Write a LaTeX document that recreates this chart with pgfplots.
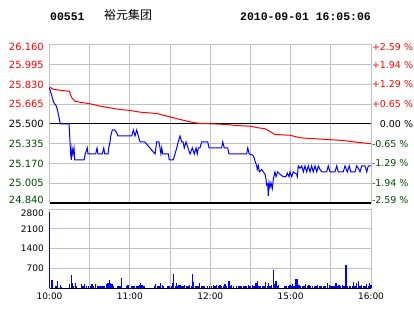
\documentclass[border=0pt]{standalone}
\usepackage{fontspec}
\setmainfont{DejaVu Sans}
\newfontfamily\cjk{Noto Sans CJK SC}
\newfontfamily\monob{Liberation Mono}
\usepackage{pgfplots}
\pgfplotsset{compat=1.18}
\definecolor{gridgray}{RGB}{192,192,192}
\definecolor{dkgreen}{RGB}{0,76,0}
\definecolor{pblue}{RGB}{0,0,255}
\definecolor{pred}{RGB}{255,0,0}
\begin{document}
\begin{tikzpicture}
\useasboundingbox (0bp,0bp) rectangle (414bp,314bp);
\node[anchor=base west, inner sep=0pt, font=\monob\bfseries\fontsize{11.5}{12}\selectfont] at (50bp,293.3bp) {00551};
\node[anchor=base west, inner sep=0pt, font=\cjk\fontsize{12}{12}\selectfont] at (104bp,294bp) {裕元集团};
\node[anchor=base east, inner sep=0pt, font=\monob\bfseries\fontsize{11.5}{12}\selectfont] at (371bp,293.3bp) {2010-09-01 16:05:06};

% ---------- price panel ----------
\begin{axis}[at={(49.5bp,111bp)}, anchor=south west, scale only axis,
  width=321.5bp, height=158bp,
  xmin=0, xmax=240, ymin=24.84, ymax=26.16,
  xtick={0,30,...,240}, xticklabel=\empty,
  ytick={24.84,25.005,25.17,25.335,25.5,25.665,25.83,25.995,26.16},
  yticklabels={,\textcolor{dkgreen}{25.005},\textcolor{dkgreen}{25.170},\textcolor{dkgreen}{25.335},25.500,\textcolor{pred}{25.665},\textcolor{pred}{25.830},\textcolor{pred}{25.995},},
  yticklabel style={font=\fontsize{10}{12}\selectfont, inner sep=0pt, xshift=-5.5bp},
  grid=major, major grid style={gridgray, line width=1bp},
  axis line style={gridgray, line width=1bp},
  major tick length=0pt, tick style={draw=none},
  clip=false]
\draw[black, line width=1bp] (axis cs:0,25.5) -- (axis cs:240,25.5);
\draw[black, line width=1.2bp] (axis cs:0,24.84) -- (axis cs:240,24.84);
\node[anchor=east, inner sep=0pt, font=\fontsize{10}{12}\selectfont, text=dkgreen, xshift=-5.5bp, yshift=3bp] at (axis cs:0,24.84) {24.840};
\node[anchor=east, inner sep=0pt, font=\fontsize{10}{12}\selectfont, text=pred, xshift=-5.5bp, yshift=-2bp] at (axis cs:0,26.16) {26.160};
\node[anchor=west, inner sep=0pt, font=\fontsize{9.5}{11}\selectfont, text=dkgreen, xshift=0.8bp, yshift=3bp] at (axis cs:240,24.84) {-2.59 \%};
\node[anchor=west, inner sep=0pt, font=\fontsize{9.5}{11}\selectfont, text=pred, xshift=0.8bp, yshift=-2bp] at (axis cs:240,26.16) {+2.59 \%};
\addplot[pred, line width=1bp, mark=none] coordinates {
(0,25.81)(2.8,25.79)(9.1,25.78)(14.8,25.774)(16.6,25.72)(19,25.69)(22.8,25.682)(30.2,25.669)(37.7,25.649)(45.2,25.635)(52.6,25.621)(60.1,25.613)(67.6,25.599)(80,25.588)(92.4,25.552)(97.4,25.538)(106.1,25.515)(112.3,25.504)(119.9,25.502)(132.3,25.496)(139.7,25.487)(149.7,25.482)(155.9,25.468)(160.9,25.46)(163.3,25.446)(168.3,25.412)(179.5,25.406)(187,25.385)(194.5,25.379)(206.9,25.371)(219.3,25.362)(229.3,25.348)(240,25.335)
};
\addplot[pblue, line width=1bp, mark=none] coordinates {
(0,25.80)(1.3,25.75)(3.1,25.68)(5.1,25.65)(6.3,25.60)(8.1,25.50)(14.6,25.50)(15.8,25.25)(16.3,25.20)(16.8,25.30)(17.5,25.25)(18.3,25.30)(18.8,25.20)(25.8,25.20)(26.7,25.25)(28.2,25.30)(28.7,25.25)(34.5,25.25)(35.5,25.30)(36.2,25.25)(39.4,25.25)(40.5,25.30)(41.2,25.25)(43.7,25.25)(44.2,25.30)(45.2,25.35)(45.7,25.40)(46.9,25.45)(48.7,25.45)(50.0,25.43)(51.1,25.40)(61.4,25.40)(62.6,25.45)(63.8,25.40)(65.1,25.45)(66.3,25.40)(67.6,25.35)(71.1,25.35)(78.8,25.25)(80.0,25.35)(81.7,25.35)(82.5,25.30)(83.2,25.25)(83.8,25.30)(84.5,25.25)(88.7,25.25)(89.4,25.20)(92.4,25.20)(93.7,25.25)(95.0,25.30)(96.1,25.35)(97.4,25.40)(98.7,25.35)(99.7,25.35)(100.6,25.30)(101.9,25.35)(103.4,25.30)(104.9,25.25)(106.6,25.30)(108.1,25.25)(109.4,25.30)(110.3,25.25)(111.1,25.30)(112.3,25.30)(113.6,25.35)(114.8,25.35)(118.1,25.35)(119.1,25.30)(128.5,25.30)(129.3,25.35)(130.5,25.30)(133.0,25.30)(134.0,25.25)(147.2,25.25)(148.0,25.30)(149.1,25.25)(151.7,25.24)(152.7,25.22)(153.4,25.19)(154.7,25.15)(155.1,25.12)(155.9,25.15)(156.6,25.10)(158.4,25.12)(159.6,25.10)(160.9,25.08)(161.6,25.04)(162.1,24.99)(162.9,25.00)(163.3,24.90)(163.9,25.01)(164.6,24.97)(165.3,25.01)(166.3,24.96)(167.1,25.04)(168.3,25.10)(169.1,25.06)(170.3,25.10)(172.1,25.08)(174.5,25.06)(176.5,25.06)(177.5,25.09)(178.8,25.06)(179.5,25.10)(180.8,25.06)(182.0,25.10)(184.5,25.08)(185.0,25.06)(185.7,25.15)(187.0,25.13)(188.3,25.15)(189.5,25.10)(190.7,25.15)(192.0,25.10)(193.2,25.15)(194.5,25.10)(195.7,25.15)(196.9,25.10)(198.2,25.15)(199.5,25.10)(200.7,25.15)(201.9,25.12)(203.2,25.10)(206.9,25.10)(208.1,25.15)(209.4,25.10)(213.1,25.10)(214.4,25.15)(215.6,25.10)(219.3,25.10)(220.6,25.15)(222.3,25.10)(223.8,25.15)(224.8,25.10)(228.1,25.10)(229.3,25.15)(230.5,25.13)(231.8,25.10)(233.1,25.15)(235.5,25.15)(236.8,25.10)(238.0,25.15)(240,25.15)
};
\end{axis}

% ---------- right percentage labels ----------
\begin{axis}[at={(49.5bp,111bp)}, anchor=south west, scale only axis,
  width=321.5bp, height=158bp,
  xmin=0, xmax=240, ymin=24.84, ymax=26.16,
  axis y line*=right, axis x line=none,
  ytick={24.84,25.005,25.17,25.335,25.5,25.665,25.83,25.995,26.16},
  yticklabels={,\textcolor{dkgreen}{-1.94 \%},\textcolor{dkgreen}{-1.29 \%},\textcolor{dkgreen}{-0.65 \%},\phantom{+}0.00 \%,\textcolor{pred}{+0.65 \%},\textcolor{pred}{+1.29 \%},\textcolor{pred}{+1.94 \%},},
  yticklabel style={font=\fontsize{9.5}{11}\selectfont, inner sep=0pt, anchor=west, xshift=0.8bp},
  axis line style={gridgray, line width=1bp},
  major tick length=0pt, tick style={draw=none}]
\addplot[draw=none] coordinates {(0,25.5)};
\end{axis}

% ---------- volume panel ----------
\begin{axis}[at={(49.5bp,25.7bp)}, anchor=south west, scale only axis,
  width=321.5bp, height=79.3bp,
  xmin=0, xmax=240, ymin=0, ymax=2800,
  xtick={0,30,...,240}, xticklabels={10:00,,11:00,,12:00,,15:00,,16:00},
  ytick={0,700,1400,2100,2800}, yticklabels={,700,1400,2100,},
  yticklabel style={font=\fontsize{9}{11}\selectfont, inner sep=0pt, xshift=-5.5bp},
  xticklabel style={font=\fontsize{9}{11}\selectfont, inner sep=0pt, yshift=-4.5bp},
  grid=major, major grid style={gridgray, line width=1bp},
  axis line style={gridgray, line width=1bp},
  major tick length=0pt, tick style={draw=none},
  clip=false]
\node[anchor=east, inner sep=0pt, font=\fontsize{9}{11}\selectfont, xshift=-5.5bp, yshift=-4.5bp] at (axis cs:0,2800) {2800};
\addplot[ycomb, pblue, line width=1.3bp, mark=none] coordinates {
(0.1,2693)(1.4,295)(2.1,295)(4.4,83)(5.1,83)(5.8,260)(8.1,118)(8.8,59)(15.1,153)(16.3,473)(17.0,200)(18.0,83)(19.3,177)(20.0,83)(23.8,153)(25.0,83)(26.3,153)(27.5,83)(29.2,83)(30.5,83)(31.7,153)(32.7,83)(34.5,153)(35.7,83)(36.7,83)(37.4,83)(38.2,83)(39.2,83)(40.2,83)(41.2,83)(42.4,153)(43.7,177)(44.7,295)(45.7,177)(46.7,153)(47.6,83)(50.6,83)(51.9,83)(52.6,83)(53.6,366)(57.9,83)(58.6,118)(61.1,83)(62.3,83)(63.6,83)(64.8,83)(66.1,83)(67.3,118)(68.1,177)(69.0,118)(70.0,83)(71.0,83)(78.5,83)(79.2,153)(80.5,83)(81.7,83)(83.0,177)(84.2,118)(84.9,83)(88.5,83)(89.7,83)(91.0,83)(92.0,177)(92.7,508)(94.2,83)(94.7,177)(95.9,83)(96.7,118)(97.7,118)(98.4,83)(99.6,83)(100.9,118)(102.1,83)(103.4,83)(104.6,118)(105.8,83)(106.6,508)(107.6,236)(108.9,83)(110.1,83)(111.4,83)(112.1,177)(113.3,83)(114.6,83)(115.8,83)(117.8,83)(119.6,83)(120.8,83)
(122.3,118)(123.5,83)(124.8,118)(126.0,83)(127.3,118)(128.5,83)(129.8,83)(131.0,153)(132.3,83)(134.0,260)(134.7,83)(136.0,118)(137.2,83)(139.7,83)(141.0,83)(142.2,83)(143.5,83)(144.7,83)(146.0,83)(147.2,83)(148.4,118)(149.7,83)(151.4,118)(152.7,83)(154.1,200)(155.1,260)(156.4,83)(157.6,83)(158.9,83)(160.1,83)(161.4,236)(162.6,83)(163.4,177)(164.6,83)(165.8,118)(167.1,650)(167.8,153)(169.1,260)(170.1,83)(170.8,118)(175.8,83)(177.0,83)(178.3,83)(179.5,118)(180.8,83)(181.5,153)(182.5,83)(184.0,330)(185.0,330)(186.3,118)(187.5,83)(188.7,83)(190.0,83)(191.2,153)(192.5,83)(193.7,118)(194.9,83)(196.4,83)(197.7,83)(198.9,83)(200.2,118)(201.9,83)(203.1,83)(204.4,83)(205.6,83)(207.6,177)(208.9,118)(210.1,83)(211.4,83)(212.4,83)(213.9,177)(214.9,83)(216.1,118)(217.3,83)(218.6,118)(219.8,83)(221.3,827)(222.3,83)(223.8,83)(224.8,83)(226.3,83)(227.0,236)(228.0,83)(229.3,177)(230.5,260)(231.8,83)(233.0,118)(234.3,83)(235.5,83)(236.7,153)(237.9,83)(239.1,200)(239.9,118)
};
\draw[black, line width=1.2bp] (axis cs:0,0) -- (axis cs:240,0);
\end{axis}
\end{tikzpicture}
\end{document}
